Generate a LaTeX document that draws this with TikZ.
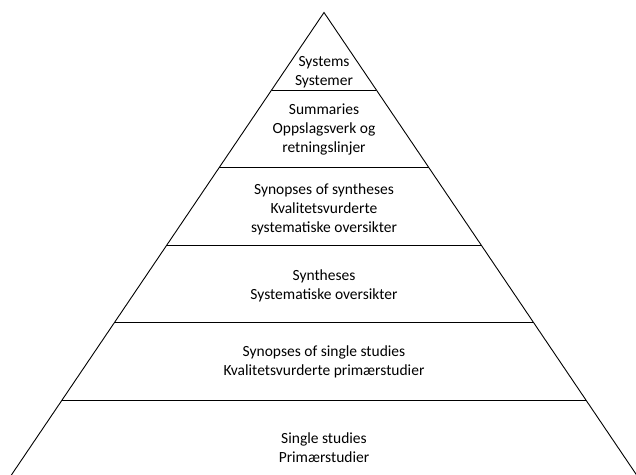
\documentclass[tikz,border=0pt]{standalone}
\usepackage{fontspec}
\setmainfont{Carlito}
\usetikzlibrary{calc}

\begin{document}
\begin{tikzpicture}[x=1pt, y=1pt, line width=0.9pt,
        level/.style={align=center, inner sep=0pt, font=\fontsize{15.5}{19}\selectfont}]
        \useasboundingbox (0,0) rectangle (636,474);
        \coordinate (top) at (324,461.5);
        \coordinate (bl) at (9.7,-3.5);
        \coordinate (br) at (638.3,-3.5);

        % pyramid and its bands
        \draw (bl) -- (top) -- (br);
        \foreach \k in {1,...,5}
          \draw ($(top)!\k/6!(bl)$) -- ($(top)!\k/6!(br)$);

        \node[level] (sys) at (324,402) {Systems\\Systemer};
        \node[level] (sum) at (324,344) {Summaries\\Oppslagsverk og\\retningslinjer};
        \node[level] (synsyn) at (324,264.5) {Synopses of syntheses\\Kvalitetsvurderte\\systematiske oversikter};
        \node[level] (syn) at (324,188.5) {Syntheses\\Systematiske oversikter};
        \node[level] (synsing) at (324,112) {Synopses of single studies\\Kvalitetsvurderte primærstudier};
        \node[level] (single) at (324,26) {Single studies\\Primærstudier};
      \end{tikzpicture}
\end{document}
